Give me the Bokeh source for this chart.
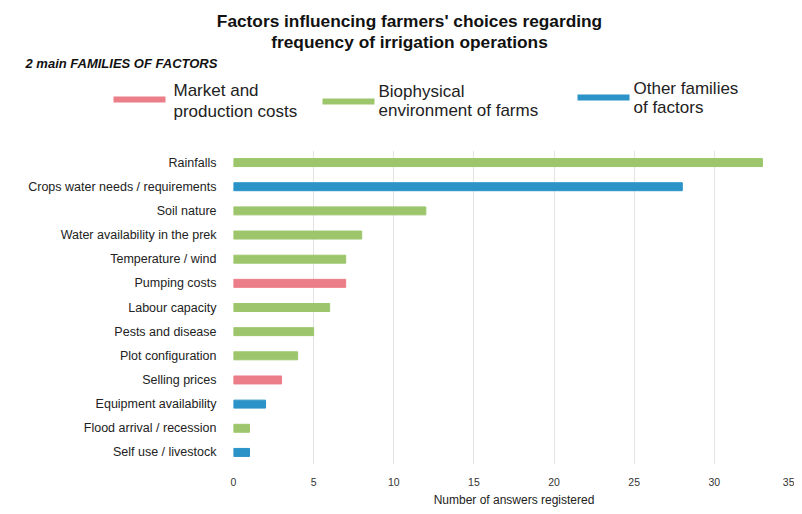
from bokeh.plotting import figure
from bokeh.layouts import column
from bokeh.models import ColumnDataSource, FactorRange, Range1d, FixedTicker, Label
from bokeh.core.properties import value
from bokeh.embed import file_html
from bokeh.resources import INLINE

# ---- data ----
factors = ["Rainfalls", "Crops water needs / requirements", "Soil nature",
           "Water availability in the prek", "Temperature / wind", "Pumping costs",
           "Labour capacity", "Pests and disease", "Plot configuration",
           "Selling prices", "Equipment availability", "Flood arrival / recession",
           "Self use / livestock"]
answers = [33, 28, 12, 8, 7, 7, 6, 5, 4, 3, 2, 1, 1]
families = ["bio", "other", "bio", "bio", "bio", "market", "bio", "bio", "bio",
            "market", "other", "bio", "other"]
x_ticks = [0, 5, 10, 15, 20, 25, 30, 35]
legend_labels = [("Market and", "production costs"),
                 ("Biophysical", "environment of farms"),
                 ("Other families", "of factors")]
legend_keys = ["market", "bio", "other"]

palette = {"market": "#EB7E88", "bio": "#9DC66C", "other": "#2B93C7"}
FONT = "Liberation Sans"

W = 794

# ---- header figure (titles + legend) ----
HH = 140
h = figure(width=W, height=HH, x_range=Range1d(0, W), y_range=Range1d(HH, 0),
           output_backend="svg", toolbar_location=None, min_border=0)
h.axis.visible = False
h.grid.visible = False
h.outline_line_color = None
h.frame_align = False

h.text(x=[409, 409], y=[20, 41],
       text=["Factors influencing farmers' choices regarding",
             "frequency of irrigation operations"],
       text_font=value(FONT), text_font_size="17.3px", text_font_style="bold",
       text_align="center", text_baseline="middle", text_color="#111111")
h.text(x=[25], y=[63], text=["2 main FAMILIES OF FACTORS"],
       text_font=value(FONT), text_font_size="13px", text_font_style="bold italic",
       text_align="left", text_baseline="middle", text_color="#111111")

sw_x0 = [113, 322, 577]
sw_y = [99, 101, 97]
txt_x = [173, 378, 633]
txt_y1 = [90, 91, 88]
txt_y2 = [111, 110, 107]
for key, (l1, l2), x0, sy, tx, ty1, ty2 in zip(legend_keys, legend_labels, sw_x0, sw_y,
                                              txt_x, txt_y1, txt_y2):
    h.segment(x0=[x0], y0=[sy], x1=[x0 + 52], y1=[sy], line_width=6,
              line_color=palette[key])
    h.text(x=[tx, tx], y=[ty1, ty2], text=[l1, l2], text_font=value(FONT),
           text_font_size="17px", text_align="left", text_baseline="middle",
           text_color="#222222")

# ---- main bar chart ----
src = ColumnDataSource(dict(factor=factors, answers=answers,
                            color=[palette[f] for f in families]))

p = figure(width=W, height=372, y_range=FactorRange(*reversed(factors)),
           x_range=Range1d(0, 35), output_backend="svg", toolbar_location=None,
           min_border_left=233, min_border_right=0, min_border_top=10,
           min_border_bottom=48)
p.frame_align = False
p.outline_line_color = None
p.hbar(y="factor", right="answers", left=0, height=0.33, color="color", source=src)

p.xaxis.ticker = FixedTicker(ticks=x_ticks)
p.xaxis.axis_line_color = None
p.xaxis.major_tick_line_color = None
p.xaxis.minor_tick_line_color = None
p.xaxis.major_label_standoff = 7
p.xaxis.major_label_text_font = FONT
p.xaxis.major_label_text_font_size = "10.5px"
p.xaxis.major_label_text_color = "#333333"
p.xaxis.axis_label = "Number of answers registered"
p.xaxis.axis_label_text_font = FONT
p.xaxis.axis_label_text_font_size = "12px"
p.xaxis.axis_label_text_font_style = "normal"
p.xaxis.axis_label_text_color = "#222222"
p.xaxis.axis_label_standoff = 4

p.yaxis.axis_line_color = None
p.yaxis.major_tick_line_color = None
p.yaxis.minor_tick_line_color = None
p.yaxis.major_label_standoff = 11
p.yaxis.major_label_text_font = FONT
p.yaxis.major_label_text_font_size = "12.5px"
p.yaxis.major_label_text_color = "#222222"

p.ygrid.grid_line_color = None
p.xgrid.grid_line_color = "#E3E3E3"
p.xgrid.grid_line_width = 1

p.add_layout(Label(x=-223, y=-40, x_units="screen", y_units="screen",
                   text="n = 42 farmers", text_font="Open Sans",
                   text_font_size="10px", text_color="#333333",
                   text_baseline="middle"))

layout = column(h, p, spacing=0)
open("out.html", "w").write(file_html(layout, INLINE))
